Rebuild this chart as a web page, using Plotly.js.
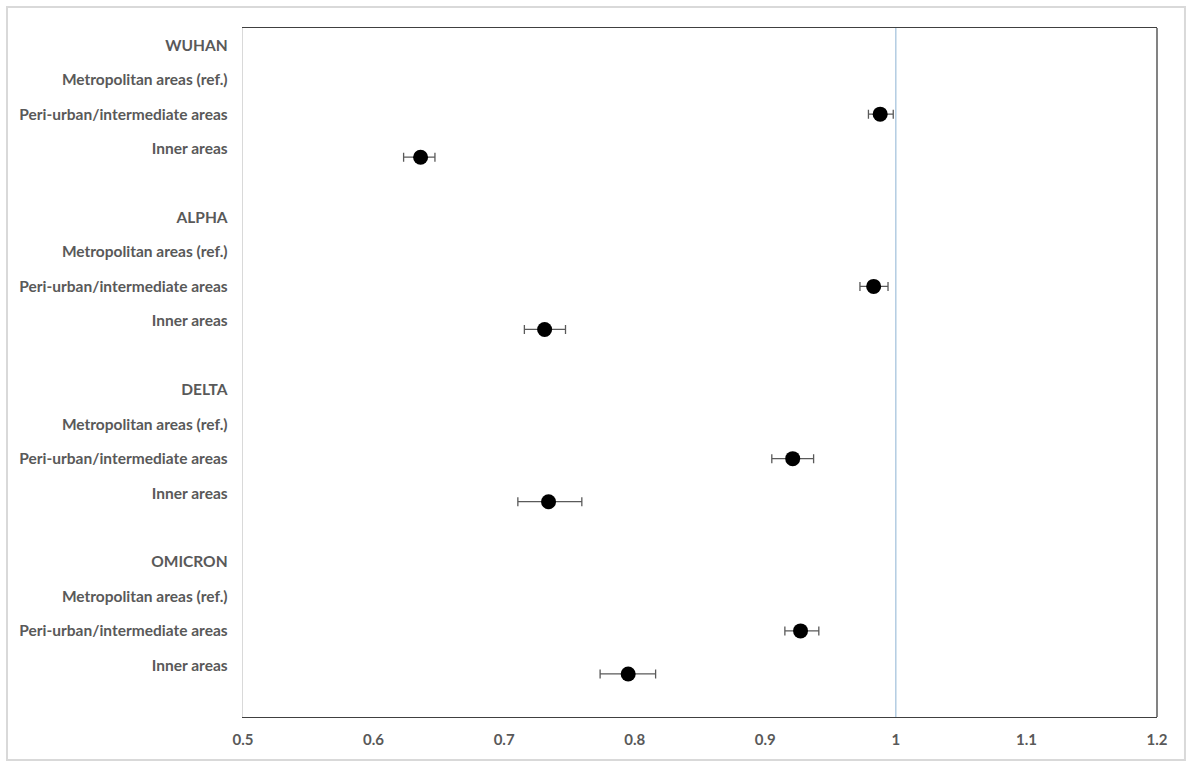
<!DOCTYPE html>
<html>
<head>
<meta charset="utf-8">
<script src="https://cdn.plot.ly/plotly-3.0.1.min.js"></script>
<style>
  html, body { margin: 0; padding: 0; background: #ffffff; }
  #chart { width: 1193px; height: 767px; }
</style>
</head>
<body>
<div id="chart"></div>
<script>
// ---- data ----
var variants = ['WUHAN', 'ALPHA', 'DELTA', 'OMICRON'];
var areaLabels = ['Metropolitan areas (ref.)', 'Peri-urban/intermediate areas', 'Inner areas'];

var periOR   = [0.988, 0.983, 0.921, 0.927];
var periLow  = [0.979, 0.9725, 0.905, 0.915];
var periHigh = [0.998, 0.994, 0.937, 0.941];

var innerOR   = [0.636, 0.731, 0.734, 0.795];
var innerLow  = [0.623, 0.7155, 0.7105, 0.7735];
var innerHigh = [0.647, 0.747, 0.7595, 0.816];

var xTicks = [0.5, 0.6, 0.7, 0.8, 0.9, 1, 1.1, 1.2];
var refValue = 1;

// ---- layout helpers (row positions) ----
var rowsPerGroup = 5;
var tickVals = [], tickText = [];
variants.forEach(function (v, g) {
  tickVals.push(g * rowsPerGroup + 0.5); tickText.push(v);
  areaLabels.forEach(function (a, r) {
    tickVals.push(g * rowsPerGroup + r + 1.5); tickText.push(a);
  });
});
var periY = variants.map(function (v, g) { return g * rowsPerGroup + 2.5; });
var innerY = variants.map(function (v, g) { return g * rowsPerGroup + 3.75; });

function sub(a, b) { return a.map(function (x, i) { return +(x - b[i]).toFixed(4); }); }

var errStyle = { type: 'data', symmetric: false, color: '#5a5a5a', thickness: 1.3, width: 4.5 };
var markerStyle = { color: '#000000', size: 15, symbol: 'circle' };

var traces = [
  {
    type: 'scatter', mode: 'markers', x: periOR, y: periY,
    marker: markerStyle,
    error_x: Object.assign({ array: sub(periHigh, periOR), arrayminus: sub(periOR, periLow) }, errStyle),
    hoverinfo: 'x', showlegend: false
  },
  {
    type: 'scatter', mode: 'markers', x: innerOR, y: innerY,
    marker: markerStyle,
    error_x: Object.assign({ array: sub(innerHigh, innerOR), arrayminus: sub(innerOR, innerLow) }, errStyle),
    hoverinfo: 'x', showlegend: false
  }
];

var fontFam = 'Lato, "Open Sans", "Liberation Sans", sans-serif';

var layout = {
  width: 1193, height: 767,
  margin: { l: 243, r: 36, t: 28, b: 50 },
  paper_bgcolor: '#ffffff', plot_bgcolor: '#ffffff',
  showlegend: false,
  xaxis: {
    range: [0.5, 1.2], tickvals: xTicks, ticktext: xTicks.map(String),
    showgrid: false, zeroline: false,
    showline: true, mirror: true, linecolor: '#404040', linewidth: 1.3,
    ticks: '', ticklabelstandoff: 9,
    tickfont: { family: fontFam, size: 15, color: '#595959', weight: 'bold' }
  },
  yaxis: {
    range: [rowsPerGroup * variants.length, 0],
    tickvals: tickVals, ticktext: tickText,
    showgrid: false, zeroline: false,
    showline: true, linecolor: '#d9d9d9', linewidth: 1.3,
    ticks: '', ticklabelstandoff: 11,
    tickfont: { family: fontFam, size: 15.5, color: '#595959', weight: 'bold' }
  },
  shapes: [
    { type: 'line', xref: 'x', yref: 'paper', x0: refValue, x1: refValue, y0: 0, y1: 1,
      line: { color: '#8db3d3', width: 1 } },
    { type: 'line', xref: 'paper', yref: 'paper', x0: 1, x1: 1, y0: 0, y1: 1,
      line: { color: '#404040', width: 1.3 } },
    { type: 'rect', xref: 'paper', yref: 'paper', x0: -0.2582, x1: 1.0306, y0: -0.0624, y1: 1.0305,
      line: { color: '#d9d9d9', width: 2 }, fillcolor: 'rgba(0,0,0,0)' }
  ]
};

Plotly.newPlot('chart', traces, layout, { displayModeBar: false, staticPlot: true });
</script>
</body>
</html>
